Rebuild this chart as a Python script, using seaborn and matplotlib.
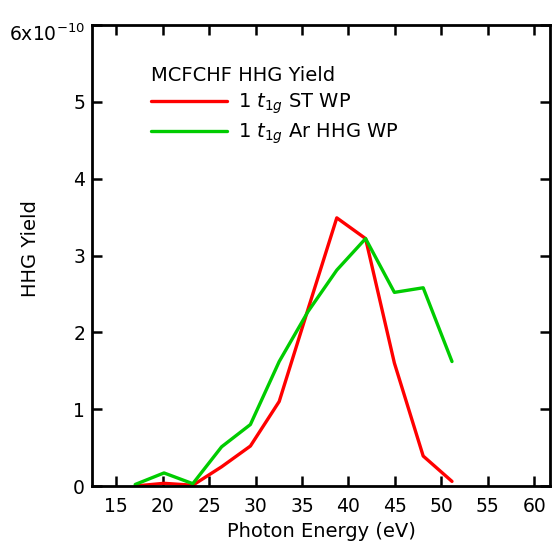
import matplotlib
matplotlib.use("Agg")
import matplotlib.pyplot as plt
import matplotlib.transforms as mtransforms
import seaborn as sns
import pandas as pd
import numpy as np

energy = [17.05, 20.15, 23.25, 26.35, 29.45, 32.55, 35.65, 38.75, 41.85, 44.95, 48.05, 51.15]
st_wp = [0.0, 0.035, 0.01, 0.25, 0.52, 1.10, 2.30, 3.49, 3.22, 1.60, 0.39, 0.06]
ar_wp = [0.02, 0.17, 0.03, 0.51, 0.80, 1.62, 2.27, 2.81, 3.22, 2.52, 2.58, 1.62]
series_names = [r"1 $t_{1g}$ ST WP", r"1 $t_{1g}$ Ar HHG WP"]
colors = ["#FF0000", "#00CC00"]
xticks = [15, 20, 25, 30, 35, 40, 45, 50, 55, 60]
yticks = [0, 1, 2, 3, 4, 5, 6]
ytick_labels = ["0", "1", "2", "3", "4", "5", r"6x10$^{-10}$"]

scale = 1e-10
df = pd.DataFrame({
    "Energy": energy * 2,
    "Yield": [v * scale for v in st_wp + ar_wp],
    "Series": [series_names[0]] * len(energy) + [series_names[1]] * len(energy),
})

sns.set_style("ticks")
plt.rcParams["font.family"] = ["DejaVu Sans"]
plt.rcParams["mathtext.fontset"] = "dejavusans"
plt.rcParams["text.color"] = "black"

fig = plt.figure(figsize=(5.53, 5.46), dpi=100)
ax = fig.add_axes([92 / 553, 60 / 546, (550 - 92) / 553, (486 - 25) / 546])

sns.lineplot(data=df, x="Energy", y="Yield", hue="Series", palette=colors,
             hue_order=series_names, linewidth=2.4, ax=ax)

ax.set_xlim(12.4, 61.7)
ax.set_ylim(0, 6 * scale)
ax.set_xticks(xticks)
ax.set_yticks([t * scale for t in yticks])
ax.set_yticklabels(ytick_labels)
ax.set_xlabel("Photon Energy (eV)", fontsize=14, labelpad=4, color="black")
ax.set_ylabel("HHG Yield", fontsize=14, color="black")
ax.yaxis.set_label_coords(-0.113, 0.515)

for s in ax.spines.values():
    s.set_linewidth(2.0)
    s.set_visible(True)
    s.set_color("black")
ax.tick_params(direction="in", length=7, width=1.8, top=True, right=True,
               labelsize=13.5, colors="black")
ax.tick_params(axis="x", pad=8)
ax.tick_params(axis="y", pad=5)

# shift the top (exponent) tick label down slightly, as in the reference
top_label = ax.get_yticklabels()[-1]
top_label.set_transform(top_label.get_transform() +
                        mtransforms.ScaledTranslation(0, -5 / 72, fig.dpi_scale_trans))

leg = ax.legend(title="MCFCHF HHG Yield", frameon=False, loc="upper left",
                bbox_to_anchor=(0.09, 0.948), fontsize=14, title_fontsize=14,
                handlelength=3.9, handletextpad=0.6, labelspacing=0.3,
                alignment="left")
leg.get_title().set_color("black")
for t in leg.get_texts():
    t.set_color("black")
for line in leg.get_lines():
    line.set_linewidth(2.4)

fig.savefig("out.png", dpi=100)
